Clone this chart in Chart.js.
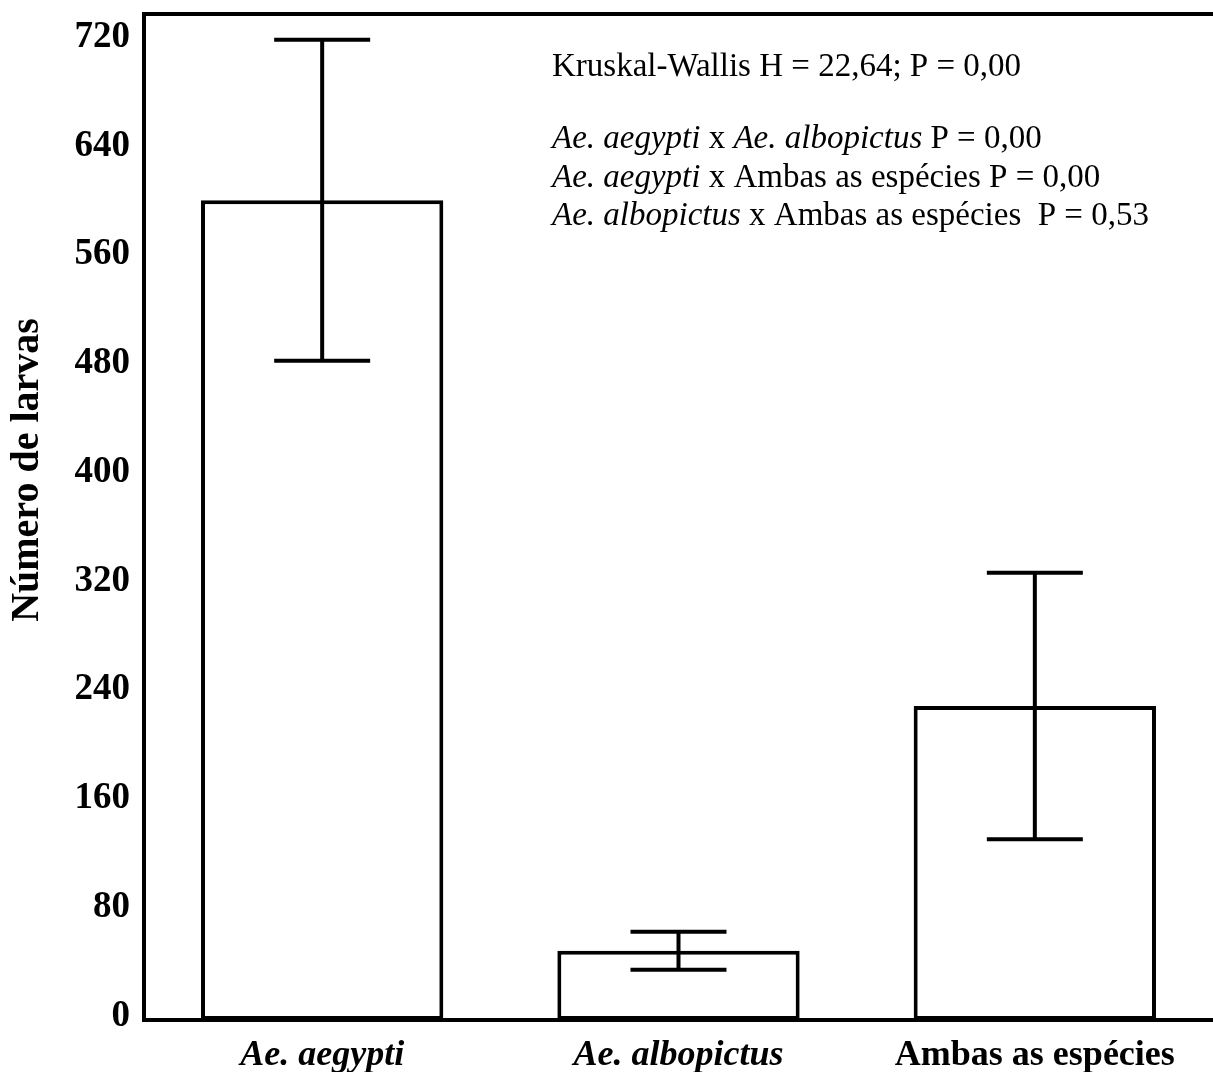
<!DOCTYPE html>
<html>
<head>
<meta charset="utf-8">
<script src="https://cdn.jsdelivr.net/npm/chart.js@4.4.0/dist/chart.umd.min.js"></script>
<style>
  html, body { margin: 0; padding: 0; background: #fff; }
  #wrap { width: 1213px; height: 1072px; }
</style>
</head>
<body>
<div id="wrap"><canvas id="larvasChart" width="1213" height="1072"></canvas></div>
<script>
// values
var categories = ['Ae. aegypti', 'Ae. albopictus', 'Ambas as espécies'];
var italicCats = [true, true, false];
var means = [603, 51, 231];
var errors = [118, 14, 98];
var yTicks = [0, 80, 160, 240, 320, 400, 480, 560, 640, 720];
var yMax = 740;
var yTitle = 'Número de larvas';

var SERIF = '"Liberation Serif", "Times New Roman", serif';

// stats text, split in runs so species names can be italic
var statLines = [
  [['Kruskal-Wallis H = 22,64; P = 0,00', false]],
  [['Ae. aegypti', true], [' x ', false], ['Ae. albopictus', true], [' P = 0,00', false]],
  [['Ae. aegypti', true], [' x Ambas as espécies P = 0,00', false]],
  [['Ae. albopictus', true], [' x Ambas as espécies  P = 0,53', false]]
];

var errorBarPlugin = {
  id: 'errorBars',
  afterDatasetsDraw: function(chart) {
    var ctx = chart.ctx;
    var y = chart.scales.y;
    var meta = chart.getDatasetMeta(0);
    ctx.save();
    ctx.strokeStyle = '#000';
    ctx.lineWidth = 4;
    for (var i = 0; i < means.length; i++) {
      var x = meta.data[i].x;
      var top = y.getPixelForValue(means[i] + errors[i]);
      var bot = y.getPixelForValue(means[i] - errors[i]);
      ctx.beginPath();
      ctx.moveTo(x, top); ctx.lineTo(x, bot);
      ctx.moveTo(x - 48, top); ctx.lineTo(x + 48, top);
      ctx.moveTo(x - 48, bot); ctx.lineTo(x + 48, bot);
      ctx.stroke();
    }
    ctx.restore();
  }
};

var frameAndTextPlugin = {
  id: 'frameAndText',
  afterDraw: function(chart) {
    var ctx = chart.ctx;
    var area = chart.chartArea;
    ctx.save();
    // top frame line
    ctx.strokeStyle = '#000';
    ctx.lineWidth = 4;
    ctx.beginPath();
    ctx.moveTo(area.left - 2, area.top);
    ctx.lineTo(chart.width, area.top);
    ctx.stroke();

    // y axis title (sits above the middle in the original)
    ctx.fillStyle = '#000';
    ctx.save();
    ctx.translate(28, 470);
    ctx.rotate(-Math.PI / 2);
    ctx.font = 'bold 40px ' + SERIF;
    ctx.textAlign = 'center';
    ctx.textBaseline = 'middle';
    ctx.fillText(yTitle, 0, 0);
    ctx.restore();

    // stats text
    ctx.textBaseline = 'alphabetic';
    var baselines = [76, 148, 187, 225];
    for (var l = 0; l < statLines.length; l++) {
      var x = 552;
      for (var r = 0; r < statLines[l].length; r++) {
        var run = statLines[l][r];
        ctx.font = (run[1] ? 'italic ' : '') + '33px ' + SERIF;
        ctx.fillText(run[0], x, baselines[l]);
        x += ctx.measureText(run[0]).width;
      }
    }
    ctx.restore();
  }
};

new Chart(document.getElementById('larvasChart').getContext('2d'), {
  type: 'bar',
  data: {
    labels: categories,
    datasets: [{
      data: means,
      backgroundColor: '#ffffff',
      borderColor: '#000000',
      borderWidth: 4,
      borderSkipped: false,
      categoryPercentage: 1,
      barPercentage: 0.68
    }]
  },
  options: {
    responsive: false,
    animation: false,
    layout: { padding: { top: 14, left: 0, right: 0, bottom: 0 } },
    plugins: {
      legend: { display: false },
      tooltip: { enabled: false }
    },
    scales: {
      x: {
        grid: { display: false, drawTicks: false },
        border: { display: true, color: '#000', width: 4 },
        ticks: {
          color: '#000',
          padding: 14,
          maxRotation: 0,
          font: function(c) {
            return { family: SERIF, size: 36, weight: 'bold', style: italicCats[c.index] ? 'italic' : 'normal' };
          }
        },
        afterFit: function(scale) { scale.height = 52; }
      },
      y: {
        min: 0,
        max: yMax,
        grid: { display: false, drawTicks: false },
        border: { display: true, color: '#000', width: 4 },
        afterBuildTicks: function(scale) {
          scale.ticks = yTicks.map(function(v) { return { value: v }; });
        },
        ticks: {
          color: '#000',
          padding: 14,
          labelOffset: -4,
          font: { family: SERIF, size: 37, weight: 'bold' }
        },
        afterFit: function(scale) {
          scale.width = 144;
          scale.paddingTop = 0;
          scale.paddingBottom = 0;
        }
      }
    }
  },
  plugins: [errorBarPlugin, frameAndTextPlugin]
});
</script>
</body>
</html>
